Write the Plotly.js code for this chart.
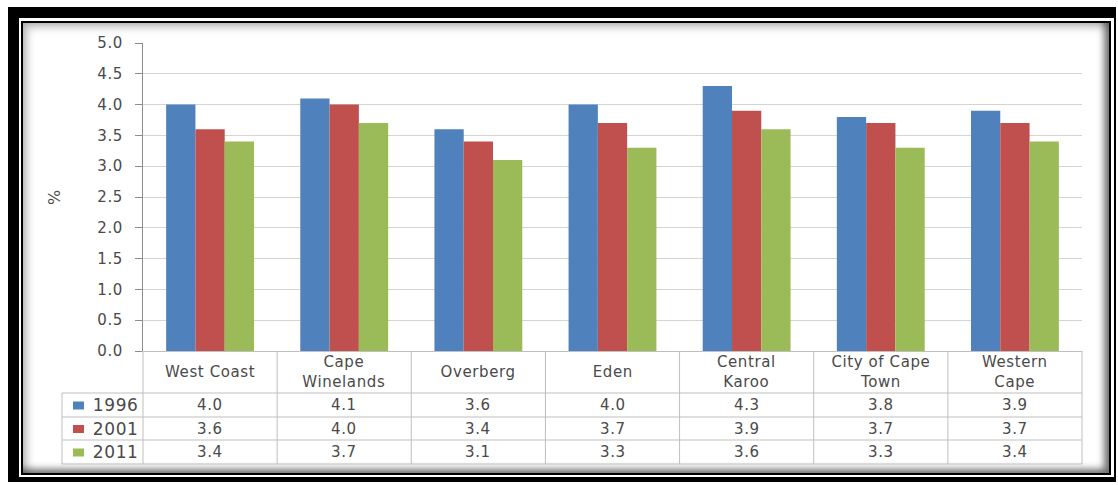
<!DOCTYPE html>
<html>
<head>
<meta charset="utf-8">
<script src="https://cdn.plot.ly/plotly-3.0.1.min.js"></script>
<style>
  html, body { margin: 0; padding: 0; background: #fff; }
  body { width: 1118px; height: 485px; position: relative; overflow: hidden; }
  .frame-outer { position: absolute; left: 8px; top: 7px; width: 1108px; height: 475px; background: #000; }
  .frame-gap { position: absolute; left: 19px; top: 18px; width: 1095px; height: 459px; background: #fff; }
  .frame-inner {
    position: absolute; left: 21px; top: 21px; width: 1090px; height: 454px;
    box-sizing: border-box; border: 2px solid #000; background: #fff;
    box-shadow: inset -5px -4px 7px rgba(0,0,0,0.55), inset 4px 4px 9px rgba(0,0,0,0.28);
  }
  #chart { position: absolute; left: 0; top: 0; width: 1118px; height: 485px; }
  #chart text { letter-spacing: 0.6px; }
</style>
</head>
<body>
<div class="frame-outer"></div>
<div class="frame-gap"></div>
<div class="frame-inner"></div>
<div id="chart"></div>
<script>
// Districts of the Western Cape, average household size (%), by census year
const categories = ['West Coast', 'Cape Winelands', 'Overberg', 'Eden', 'Central Karoo', 'City of Cape Town', 'Western Cape'];
const categoryLabels = ['West Coast', 'Cape<br>Winelands', 'Overberg', 'Eden', 'Central<br>Karoo', 'City of Cape<br>Town', 'Western<br>Cape'];
const seriesNames = ['1996', '2001', '2011'];
const values1996 = [4.0, 4.1, 3.6, 4.0, 4.3, 3.8, 3.9];
const values2001 = [3.6, 4.0, 3.4, 3.7, 3.9, 3.7, 3.7];
const values2011 = [3.4, 3.7, 3.1, 3.3, 3.6, 3.3, 3.4];
const seriesValues = [values1996, values2001, values2011];
const seriesColors = ['#4F81BD', '#C0504D', '#9BBB59'];
const yTickValues = [0, 0.5, 1, 1.5, 2, 2.5, 3, 3.5, 4, 4.5, 5];

// Plot-area box in page pixels; helpers convert page pixels to paper coordinates
const L = 143, R = 1082, T = 43, B = 351;
const W = R - L, H = B - T;
const px = x => (x - L) / W;
const py = y => (B - y) / H;

const textFont = { family: 'DejaVu Sans, sans-serif', size: 15, color: '#4a4a4a' };
const lineColor = '#BFBFBF';

const traces = seriesNames.map((name, s) => ({
  type: 'bar',
  name: name,
  x: categories,
  y: seriesValues[s],
  marker: { color: seriesColors[s], line: { width: 0 } },
  hoverinfo: 'skip'
}));

// Data table underneath the bars
const shapes = [];
const annotations = [];

// vertical cell borders at category boundaries
for (let i = 0; i <= categories.length; i++) {
  shapes.push({ type: 'line', xref: 'paper', yref: 'paper',
    x0: i / categories.length, x1: i / categories.length, y0: 0, y1: py(464),
    line: { color: lineColor, width: 1 } });
}
// horizontal row borders
[393, 417, 440, 464].forEach(y => {
  shapes.push({ type: 'line', xref: 'paper', yref: 'paper',
    x0: px(62), x1: 1, y0: py(y), y1: py(y), line: { color: lineColor, width: 1 } });
});
// left border of the series-name column
shapes.push({ type: 'line', xref: 'paper', yref: 'paper',
  x0: px(62), x1: px(62), y0: py(393), y1: py(464), line: { color: lineColor, width: 1 } });

// category header row
categories.forEach((c, i) => {
  annotations.push({ xref: 'x', yref: 'paper', x: c, y: py(372),
    text: categoryLabels[i], showarrow: false, xanchor: 'center', yanchor: 'middle',
    align: 'center', font: textFont });
});

// value rows with legend keys
const rowCenters = [405, 428.5, 452];
seriesNames.forEach((name, s) => {
  const yc = rowCenters[s];
  shapes.push({ type: 'rect', xref: 'paper', yref: 'paper',
    x0: px(73), x1: px(84), y0: py(yc + 4.5), y1: py(yc - 3.5),
    fillcolor: seriesColors[s], line: { width: 0 } });
  annotations.push({ xref: 'paper', yref: 'paper', x: px(139), y: py(yc),
    text: name, showarrow: false, xanchor: 'right', yanchor: 'middle',
    font: Object.assign({}, textFont, { size: 17 }) });
  seriesValues[s].forEach((v, i) => {
    annotations.push({ xref: 'x', yref: 'paper', x: categories[i], y: py(yc),
      text: v.toFixed(1), showarrow: false, xanchor: 'center', yanchor: 'middle',
      font: textFont });
  });
});

const layout = {
  width: 1118,
  height: 485,
  margin: { l: L, r: 1118 - R, t: T, b: 485 - B, pad: 0 },
  paper_bgcolor: 'rgba(0,0,0,0)',
  plot_bgcolor: 'rgba(0,0,0,0)',
  showlegend: false,
  barmode: 'group',
  bargap: 0.345,
  bargroupgap: 0,
  font: textFont,
  xaxis: {
    type: 'category',
    showticklabels: false,
    ticks: '',
    showgrid: false,
    showline: true,
    linecolor: lineColor,
    linewidth: 1,
    zeroline: false,
    fixedrange: true
  },
  yaxis: {
    range: [0, 5],
    tickvals: yTickValues,
    tickformat: '.1f',
    ticks: 'outside',
    ticklen: 7,
    tickcolor: '#8C8C8C',
    ticklabelstandoff: 9,
    tickfont: textFont,
    showline: true,
    linecolor: '#8C8C8C',
    linewidth: 1,
    showgrid: true,
    gridcolor: '#D4D4D4',
    gridwidth: 1,
    zeroline: false,
    automargin: false,
    fixedrange: true,
    title: { text: '%', font: Object.assign({}, textFont, { size: 16 }), standoff: 34 }
  },
  shapes: shapes,
  annotations: annotations
};

Plotly.newPlot('chart', traces, layout, { staticPlot: true, displayModeBar: false });
</script>
</body>
</html>
